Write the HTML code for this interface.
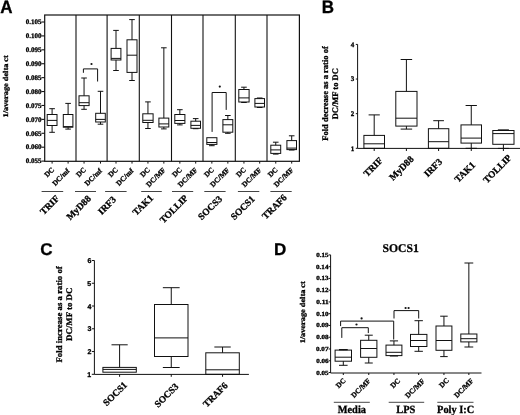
<!DOCTYPE html>
<html><head><meta charset="utf-8"><style>
html,body{margin:0;padding:0;background:#fff;width:520px;height:415px;overflow:hidden}
svg{display:block;will-change:transform;text-rendering:geometricPrecision}
text{fill:#000;stroke:#000;stroke-width:0.3px}
</style></head><body>
<svg width="520" height="415" viewBox="0 0 520 415">
<rect width="520" height="415" fill="#fff"/>
<text transform="translate(0.3 12.5) scale(1 1.06)" font-size="17" font-family="'Liberation Sans', sans-serif" font-weight="bold">A</text>
<text x="7.55" y="86.28" font-size="7.3" font-family="'Liberation Serif', serif" font-weight="bold" text-anchor="middle" transform="rotate(-90 7.55 86.28)" textLength="62.2" lengthAdjust="spacingAndGlyphs">1/average delta ct</text>
<rect x="44.7" y="15.0" width="254.70" height="146.30" fill="none" stroke="#111" stroke-width="1.2"/>
<line x1="76.00" y1="15.00" x2="76.00" y2="161.30" stroke="#111" stroke-width="1.1"/>
<line x1="107.10" y1="15.00" x2="107.10" y2="161.30" stroke="#111" stroke-width="1.1"/>
<line x1="139.30" y1="15.00" x2="139.30" y2="161.30" stroke="#111" stroke-width="1.1"/>
<line x1="171.50" y1="15.00" x2="171.50" y2="161.30" stroke="#111" stroke-width="1.1"/>
<line x1="203.00" y1="15.00" x2="203.00" y2="161.30" stroke="#111" stroke-width="1.1"/>
<line x1="235.30" y1="15.00" x2="235.30" y2="161.30" stroke="#111" stroke-width="1.1"/>
<line x1="267.00" y1="15.00" x2="267.00" y2="161.30" stroke="#111" stroke-width="1.1"/>
<line x1="41.40" y1="22.00" x2="44.70" y2="22.00" stroke="#111" stroke-width="1.1"/>
<text x="33.70" y="24.25" font-size="7" font-family="'Liberation Serif', serif" font-weight="bold" text-anchor="middle">0.105</text>
<line x1="41.40" y1="35.91" x2="44.70" y2="35.91" stroke="#111" stroke-width="1.1"/>
<text x="33.70" y="38.16" font-size="7" font-family="'Liberation Serif', serif" font-weight="bold" text-anchor="middle">0.100</text>
<line x1="41.40" y1="49.82" x2="44.70" y2="49.82" stroke="#111" stroke-width="1.1"/>
<text x="33.70" y="52.07" font-size="7" font-family="'Liberation Serif', serif" font-weight="bold" text-anchor="middle">0.095</text>
<line x1="41.40" y1="63.73" x2="44.70" y2="63.73" stroke="#111" stroke-width="1.1"/>
<text x="33.70" y="65.98" font-size="7" font-family="'Liberation Serif', serif" font-weight="bold" text-anchor="middle">0.090</text>
<line x1="41.40" y1="77.64" x2="44.70" y2="77.64" stroke="#111" stroke-width="1.1"/>
<text x="33.70" y="79.89" font-size="7" font-family="'Liberation Serif', serif" font-weight="bold" text-anchor="middle">0.085</text>
<line x1="41.40" y1="91.55" x2="44.70" y2="91.55" stroke="#111" stroke-width="1.1"/>
<text x="33.70" y="93.80" font-size="7" font-family="'Liberation Serif', serif" font-weight="bold" text-anchor="middle">0.080</text>
<line x1="41.40" y1="105.46" x2="44.70" y2="105.46" stroke="#111" stroke-width="1.1"/>
<text x="33.70" y="107.71" font-size="7" font-family="'Liberation Serif', serif" font-weight="bold" text-anchor="middle">0.075</text>
<line x1="41.40" y1="119.37" x2="44.70" y2="119.37" stroke="#111" stroke-width="1.1"/>
<text x="33.70" y="121.62" font-size="7" font-family="'Liberation Serif', serif" font-weight="bold" text-anchor="middle">0.070</text>
<line x1="41.40" y1="133.28" x2="44.70" y2="133.28" stroke="#111" stroke-width="1.1"/>
<text x="33.70" y="135.53" font-size="7" font-family="'Liberation Serif', serif" font-weight="bold" text-anchor="middle">0.065</text>
<line x1="41.40" y1="147.19" x2="44.70" y2="147.19" stroke="#111" stroke-width="1.1"/>
<text x="33.70" y="149.44" font-size="7" font-family="'Liberation Serif', serif" font-weight="bold" text-anchor="middle">0.060</text>
<line x1="41.40" y1="161.10" x2="44.70" y2="161.10" stroke="#111" stroke-width="1.1"/>
<text x="33.70" y="163.35" font-size="7" font-family="'Liberation Serif', serif" font-weight="bold" text-anchor="middle">0.055</text>
<line x1="52.10" y1="108.70" x2="52.10" y2="114.50" stroke="#111" stroke-width="1.0"/>
<line x1="49.30" y1="108.70" x2="54.90" y2="108.70" stroke="#111" stroke-width="1.0"/>
<line x1="52.10" y1="125.50" x2="52.10" y2="132.30" stroke="#111" stroke-width="1.0"/>
<line x1="49.30" y1="132.30" x2="54.90" y2="132.30" stroke="#111" stroke-width="1.0"/>
<rect x="47.20" y="114.50" width="9.80" height="11.00" fill="none" stroke="#111" stroke-width="1.0"/>
<line x1="47.20" y1="120.40" x2="57.00" y2="120.40" stroke="#111" stroke-width="1.0"/>
<line x1="52.10" y1="161.30" x2="52.10" y2="163.60" stroke="#111" stroke-width="1.0"/>
<text x="50.90" y="173.88" font-size="7.3" font-family="'Liberation Serif', serif" font-weight="bold" text-anchor="middle" transform="rotate(-45 50.90 173.88)">DC</text>
<line x1="68.10" y1="103.40" x2="68.10" y2="114.50" stroke="#111" stroke-width="1.0"/>
<line x1="65.30" y1="103.40" x2="70.90" y2="103.40" stroke="#111" stroke-width="1.0"/>
<line x1="68.10" y1="127.20" x2="68.10" y2="129.10" stroke="#111" stroke-width="1.0"/>
<line x1="65.30" y1="129.10" x2="70.90" y2="129.10" stroke="#111" stroke-width="1.0"/>
<rect x="63.30" y="114.50" width="9.60" height="12.70" fill="none" stroke="#111" stroke-width="1.0"/>
<line x1="63.30" y1="126.60" x2="72.90" y2="126.60" stroke="#111" stroke-width="1.0"/>
<line x1="68.10" y1="161.30" x2="68.10" y2="163.60" stroke="#111" stroke-width="1.0"/>
<text x="62.60" y="178.78" font-size="7.3" font-family="'Liberation Serif', serif" font-weight="bold" text-anchor="middle" transform="rotate(-45 62.60 178.78)">DC/mf</text>
<line x1="84.05" y1="78.00" x2="84.05" y2="95.80" stroke="#111" stroke-width="1.0"/>
<line x1="81.25" y1="78.00" x2="86.85" y2="78.00" stroke="#111" stroke-width="1.0"/>
<line x1="84.05" y1="105.60" x2="84.05" y2="109.30" stroke="#111" stroke-width="1.0"/>
<line x1="81.25" y1="109.30" x2="86.85" y2="109.30" stroke="#111" stroke-width="1.0"/>
<rect x="79.00" y="95.80" width="10.10" height="9.80" fill="none" stroke="#111" stroke-width="1.0"/>
<line x1="79.00" y1="102.70" x2="89.10" y2="102.70" stroke="#111" stroke-width="1.0"/>
<line x1="84.05" y1="161.30" x2="84.05" y2="163.60" stroke="#111" stroke-width="1.0"/>
<text x="82.85" y="173.88" font-size="7.3" font-family="'Liberation Serif', serif" font-weight="bold" text-anchor="middle" transform="rotate(-45 82.85 173.88)">DC</text>
<line x1="100.50" y1="91.30" x2="100.50" y2="113.30" stroke="#111" stroke-width="1.0"/>
<line x1="97.70" y1="91.30" x2="103.30" y2="91.30" stroke="#111" stroke-width="1.0"/>
<line x1="100.50" y1="122.00" x2="100.50" y2="124.20" stroke="#111" stroke-width="1.0"/>
<line x1="97.70" y1="124.20" x2="103.30" y2="124.20" stroke="#111" stroke-width="1.0"/>
<rect x="95.70" y="113.30" width="9.60" height="8.70" fill="none" stroke="#111" stroke-width="1.0"/>
<line x1="95.70" y1="119.40" x2="105.30" y2="119.40" stroke="#111" stroke-width="1.0"/>
<line x1="100.50" y1="161.30" x2="100.50" y2="163.60" stroke="#111" stroke-width="1.0"/>
<text x="95.00" y="178.78" font-size="7.3" font-family="'Liberation Serif', serif" font-weight="bold" text-anchor="middle" transform="rotate(-45 95.00 178.78)">DC/mf</text>
<line x1="116.00" y1="30.40" x2="116.00" y2="48.40" stroke="#111" stroke-width="1.0"/>
<line x1="113.20" y1="30.40" x2="118.80" y2="30.40" stroke="#111" stroke-width="1.0"/>
<line x1="116.00" y1="60.00" x2="116.00" y2="70.50" stroke="#111" stroke-width="1.0"/>
<line x1="113.20" y1="70.50" x2="118.80" y2="70.50" stroke="#111" stroke-width="1.0"/>
<rect x="111.10" y="48.40" width="9.80" height="11.60" fill="none" stroke="#111" stroke-width="1.0"/>
<line x1="111.10" y1="58.40" x2="120.90" y2="58.40" stroke="#111" stroke-width="1.0"/>
<line x1="116.00" y1="161.30" x2="116.00" y2="163.60" stroke="#111" stroke-width="1.0"/>
<text x="114.80" y="173.88" font-size="7.3" font-family="'Liberation Serif', serif" font-weight="bold" text-anchor="middle" transform="rotate(-45 114.80 173.88)">DC</text>
<line x1="132.00" y1="19.60" x2="132.00" y2="39.80" stroke="#111" stroke-width="1.0"/>
<line x1="129.20" y1="19.60" x2="134.80" y2="19.60" stroke="#111" stroke-width="1.0"/>
<line x1="132.00" y1="72.40" x2="132.00" y2="80.50" stroke="#111" stroke-width="1.0"/>
<line x1="129.20" y1="80.50" x2="134.80" y2="80.50" stroke="#111" stroke-width="1.0"/>
<rect x="127.00" y="39.80" width="10.00" height="32.60" fill="none" stroke="#111" stroke-width="1.0"/>
<line x1="127.00" y1="55.20" x2="137.00" y2="55.20" stroke="#111" stroke-width="1.0"/>
<line x1="132.00" y1="161.30" x2="132.00" y2="163.60" stroke="#111" stroke-width="1.0"/>
<text x="126.50" y="178.78" font-size="7.3" font-family="'Liberation Serif', serif" font-weight="bold" text-anchor="middle" transform="rotate(-45 126.50 178.78)">DC/mf</text>
<line x1="147.95" y1="101.90" x2="147.95" y2="113.80" stroke="#111" stroke-width="1.0"/>
<line x1="145.15" y1="101.90" x2="150.75" y2="101.90" stroke="#111" stroke-width="1.0"/>
<line x1="147.95" y1="122.50" x2="147.95" y2="128.50" stroke="#111" stroke-width="1.0"/>
<line x1="145.15" y1="128.50" x2="150.75" y2="128.50" stroke="#111" stroke-width="1.0"/>
<rect x="142.80" y="113.80" width="10.30" height="8.70" fill="none" stroke="#111" stroke-width="1.0"/>
<line x1="142.80" y1="120.30" x2="153.10" y2="120.30" stroke="#111" stroke-width="1.0"/>
<line x1="147.95" y1="161.30" x2="147.95" y2="163.60" stroke="#111" stroke-width="1.0"/>
<text x="146.75" y="173.88" font-size="7.3" font-family="'Liberation Serif', serif" font-weight="bold" text-anchor="middle" transform="rotate(-45 146.75 173.88)">DC</text>
<line x1="163.85" y1="47.80" x2="163.85" y2="118.10" stroke="#111" stroke-width="1.0"/>
<line x1="161.05" y1="47.80" x2="166.65" y2="47.80" stroke="#111" stroke-width="1.0"/>
<line x1="163.85" y1="127.00" x2="163.85" y2="128.90" stroke="#111" stroke-width="1.0"/>
<line x1="161.05" y1="128.90" x2="166.65" y2="128.90" stroke="#111" stroke-width="1.0"/>
<rect x="158.90" y="118.10" width="9.90" height="8.90" fill="none" stroke="#111" stroke-width="1.0"/>
<line x1="158.90" y1="123.90" x2="168.80" y2="123.90" stroke="#111" stroke-width="1.0"/>
<line x1="163.85" y1="161.30" x2="163.85" y2="163.60" stroke="#111" stroke-width="1.0"/>
<text x="157.50" y="179.03" font-size="7.3" font-family="'Liberation Serif', serif" font-weight="bold" text-anchor="middle" transform="rotate(-45 157.50 179.03)">DC/MF</text>
<line x1="179.85" y1="109.70" x2="179.85" y2="114.50" stroke="#111" stroke-width="1.0"/>
<line x1="177.05" y1="109.70" x2="182.65" y2="109.70" stroke="#111" stroke-width="1.0"/>
<line x1="179.85" y1="123.40" x2="179.85" y2="124.90" stroke="#111" stroke-width="1.0"/>
<line x1="177.05" y1="124.90" x2="182.65" y2="124.90" stroke="#111" stroke-width="1.0"/>
<rect x="174.80" y="114.50" width="10.10" height="8.90" fill="none" stroke="#111" stroke-width="1.0"/>
<line x1="174.80" y1="120.50" x2="184.90" y2="120.50" stroke="#111" stroke-width="1.0"/>
<line x1="179.85" y1="161.30" x2="179.85" y2="163.60" stroke="#111" stroke-width="1.0"/>
<text x="178.65" y="173.88" font-size="7.3" font-family="'Liberation Serif', serif" font-weight="bold" text-anchor="middle" transform="rotate(-45 178.65 173.88)">DC</text>
<line x1="195.70" y1="118.60" x2="195.70" y2="121.20" stroke="#111" stroke-width="1.0"/>
<line x1="192.90" y1="118.60" x2="198.50" y2="118.60" stroke="#111" stroke-width="1.0"/>
<line x1="195.70" y1="128.30" x2="195.70" y2="128.70" stroke="#111" stroke-width="1.0"/>
<line x1="192.90" y1="128.70" x2="198.50" y2="128.70" stroke="#111" stroke-width="1.0"/>
<rect x="190.90" y="121.20" width="9.60" height="7.10" fill="none" stroke="#111" stroke-width="1.0"/>
<line x1="190.90" y1="125.40" x2="200.50" y2="125.40" stroke="#111" stroke-width="1.0"/>
<line x1="195.70" y1="161.30" x2="195.70" y2="163.60" stroke="#111" stroke-width="1.0"/>
<text x="189.35" y="179.03" font-size="7.3" font-family="'Liberation Serif', serif" font-weight="bold" text-anchor="middle" transform="rotate(-45 189.35 179.03)">DC/MF</text>
<line x1="211.85" y1="144.40" x2="211.85" y2="145.70" stroke="#111" stroke-width="1.0"/>
<line x1="209.05" y1="145.70" x2="214.65" y2="145.70" stroke="#111" stroke-width="1.0"/>
<rect x="206.80" y="137.70" width="10.10" height="6.70" fill="none" stroke="#111" stroke-width="1.0"/>
<line x1="206.80" y1="142.50" x2="216.90" y2="142.50" stroke="#111" stroke-width="1.0"/>
<line x1="211.85" y1="161.30" x2="211.85" y2="163.60" stroke="#111" stroke-width="1.0"/>
<text x="210.65" y="173.88" font-size="7.3" font-family="'Liberation Serif', serif" font-weight="bold" text-anchor="middle" transform="rotate(-45 210.65 173.88)">DC</text>
<line x1="227.85" y1="115.50" x2="227.85" y2="119.60" stroke="#111" stroke-width="1.0"/>
<line x1="225.05" y1="115.50" x2="230.65" y2="115.50" stroke="#111" stroke-width="1.0"/>
<line x1="227.85" y1="132.20" x2="227.85" y2="133.30" stroke="#111" stroke-width="1.0"/>
<line x1="225.05" y1="133.30" x2="230.65" y2="133.30" stroke="#111" stroke-width="1.0"/>
<rect x="222.90" y="119.60" width="9.90" height="12.60" fill="none" stroke="#111" stroke-width="1.0"/>
<line x1="222.90" y1="124.80" x2="232.80" y2="124.80" stroke="#111" stroke-width="1.0"/>
<line x1="227.85" y1="161.30" x2="227.85" y2="163.60" stroke="#111" stroke-width="1.0"/>
<text x="221.50" y="179.03" font-size="7.3" font-family="'Liberation Serif', serif" font-weight="bold" text-anchor="middle" transform="rotate(-45 221.50 179.03)">DC/MF</text>
<line x1="243.95" y1="87.20" x2="243.95" y2="89.50" stroke="#111" stroke-width="1.0"/>
<line x1="241.15" y1="87.20" x2="246.75" y2="87.20" stroke="#111" stroke-width="1.0"/>
<line x1="243.95" y1="102.00" x2="243.95" y2="102.50" stroke="#111" stroke-width="1.0"/>
<line x1="241.15" y1="102.50" x2="246.75" y2="102.50" stroke="#111" stroke-width="1.0"/>
<rect x="238.80" y="89.50" width="10.30" height="12.50" fill="none" stroke="#111" stroke-width="1.0"/>
<line x1="238.80" y1="97.90" x2="249.10" y2="97.90" stroke="#111" stroke-width="1.0"/>
<line x1="243.95" y1="161.30" x2="243.95" y2="163.60" stroke="#111" stroke-width="1.0"/>
<text x="242.75" y="173.88" font-size="7.3" font-family="'Liberation Serif', serif" font-weight="bold" text-anchor="middle" transform="rotate(-45 242.75 173.88)">DC</text>
<line x1="259.70" y1="98.00" x2="259.70" y2="98.60" stroke="#111" stroke-width="1.0"/>
<line x1="256.90" y1="98.00" x2="262.50" y2="98.00" stroke="#111" stroke-width="1.0"/>
<line x1="259.70" y1="107.00" x2="259.70" y2="107.50" stroke="#111" stroke-width="1.0"/>
<line x1="256.90" y1="107.50" x2="262.50" y2="107.50" stroke="#111" stroke-width="1.0"/>
<rect x="254.90" y="98.60" width="9.60" height="8.40" fill="none" stroke="#111" stroke-width="1.0"/>
<line x1="254.90" y1="103.40" x2="264.50" y2="103.40" stroke="#111" stroke-width="1.0"/>
<line x1="259.70" y1="161.30" x2="259.70" y2="163.60" stroke="#111" stroke-width="1.0"/>
<text x="253.35" y="179.03" font-size="7.3" font-family="'Liberation Serif', serif" font-weight="bold" text-anchor="middle" transform="rotate(-45 253.35 179.03)">DC/MF</text>
<line x1="275.75" y1="142.20" x2="275.75" y2="145.20" stroke="#111" stroke-width="1.0"/>
<line x1="272.95" y1="142.20" x2="278.55" y2="142.20" stroke="#111" stroke-width="1.0"/>
<line x1="275.75" y1="153.40" x2="275.75" y2="154.10" stroke="#111" stroke-width="1.0"/>
<line x1="272.95" y1="154.10" x2="278.55" y2="154.10" stroke="#111" stroke-width="1.0"/>
<rect x="270.80" y="145.20" width="9.90" height="8.20" fill="none" stroke="#111" stroke-width="1.0"/>
<line x1="270.80" y1="149.90" x2="280.70" y2="149.90" stroke="#111" stroke-width="1.0"/>
<line x1="275.75" y1="161.30" x2="275.75" y2="163.60" stroke="#111" stroke-width="1.0"/>
<text x="274.55" y="173.88" font-size="7.3" font-family="'Liberation Serif', serif" font-weight="bold" text-anchor="middle" transform="rotate(-45 274.55 173.88)">DC</text>
<line x1="291.70" y1="135.80" x2="291.70" y2="140.60" stroke="#111" stroke-width="1.0"/>
<line x1="288.90" y1="135.80" x2="294.50" y2="135.80" stroke="#111" stroke-width="1.0"/>
<line x1="291.70" y1="149.60" x2="291.70" y2="150.00" stroke="#111" stroke-width="1.0"/>
<line x1="288.90" y1="150.00" x2="294.50" y2="150.00" stroke="#111" stroke-width="1.0"/>
<rect x="286.90" y="140.60" width="9.60" height="9.00" fill="none" stroke="#111" stroke-width="1.0"/>
<line x1="286.90" y1="148.10" x2="296.50" y2="148.10" stroke="#111" stroke-width="1.0"/>
<line x1="291.70" y1="161.30" x2="291.70" y2="163.60" stroke="#111" stroke-width="1.0"/>
<text x="285.35" y="179.03" font-size="7.3" font-family="'Liberation Serif', serif" font-weight="bold" text-anchor="middle" transform="rotate(-45 285.35 179.03)">DC/MF</text>
<path d="M83.4 72.3 V68.9 H97.6 V81.0" fill="none" stroke="#111" stroke-width="1.0" stroke-linejoin="miter" stroke-linecap="square"/>
<circle cx="91.5" cy="64.0" r="1.1" fill="#111"/>
<path d="M212.1 131.4 V92.5 H226.2 V109.4" fill="none" stroke="#111" stroke-width="1.0" stroke-linejoin="miter" stroke-linecap="square"/>
<circle cx="219.8" cy="86.6" r="1.1" fill="#111"/>
<line x1="41.60" y1="191.50" x2="63.20" y2="191.50" stroke="#444" stroke-width="1.0"/>
<line x1="75.00" y1="191.50" x2="96.00" y2="191.50" stroke="#444" stroke-width="1.0"/>
<line x1="105.10" y1="191.50" x2="126.60" y2="191.50" stroke="#444" stroke-width="1.0"/>
<line x1="141.20" y1="191.50" x2="161.80" y2="191.50" stroke="#444" stroke-width="1.0"/>
<line x1="172.00" y1="191.50" x2="193.20" y2="191.50" stroke="#444" stroke-width="1.0"/>
<line x1="204.30" y1="191.50" x2="225.60" y2="191.50" stroke="#444" stroke-width="1.0"/>
<line x1="237.90" y1="191.50" x2="259.30" y2="191.50" stroke="#444" stroke-width="1.0"/>
<line x1="270.40" y1="191.50" x2="291.70" y2="191.50" stroke="#444" stroke-width="1.0"/>
<text x="51.75" y="207.20" font-size="9.5" font-family="'Liberation Serif', serif" font-weight="bold" text-anchor="middle" transform="rotate(-45 51.75 207.20)">TRIF</text>
<text x="80.90" y="209.85" font-size="9.5" font-family="'Liberation Serif', serif" font-weight="bold" text-anchor="middle" transform="rotate(-45 80.90 209.85)">MyD88</text>
<text x="109.25" y="207.70" font-size="9.5" font-family="'Liberation Serif', serif" font-weight="bold" text-anchor="middle" transform="rotate(-45 109.25 207.70)">IRF3</text>
<text x="145.05" y="207.25" font-size="9.5" font-family="'Liberation Serif', serif" font-weight="bold" text-anchor="middle" transform="rotate(-45 145.05 207.25)">TAK1</text>
<text x="176.10" y="211.15" font-size="9.5" font-family="'Liberation Serif', serif" font-weight="bold" text-anchor="middle" transform="rotate(-45 176.10 211.15)">TOLLIP</text>
<text x="212.32" y="210.05" font-size="9.5" font-family="'Liberation Serif', serif" font-weight="bold" text-anchor="middle" transform="rotate(-45 212.32 210.05)">SOCS3</text>
<text x="244.93" y="210.05" font-size="9.5" font-family="'Liberation Serif', serif" font-weight="bold" text-anchor="middle" transform="rotate(-45 244.93 210.05)">SOCS1</text>
<text x="276.68" y="209.03" font-size="9.5" font-family="'Liberation Serif', serif" font-weight="bold" text-anchor="middle" transform="rotate(-45 276.68 209.03)">TRAF6</text>
<text transform="translate(321.7 12.6) scale(1 1.06)" font-size="17" font-family="'Liberation Sans', sans-serif" font-weight="bold">B</text>
<text x="327.88" y="93.47" font-size="8.5" font-family="'Liberation Serif', serif" font-weight="bold" text-anchor="middle" transform="rotate(-90 327.88 93.47)">Fold decrease as a ratio of</text>
<text x="337.65" y="93.75" font-size="8.5" font-family="'Liberation Serif', serif" font-weight="bold" text-anchor="middle" transform="rotate(-90 337.65 93.75)">DC/MF to DC</text>
<line x1="357.60" y1="44.40" x2="357.60" y2="148.40" stroke="#111" stroke-width="1.0"/>
<line x1="357.60" y1="148.40" x2="520.00" y2="148.40" stroke="#111" stroke-width="1.0"/>
<line x1="355.80" y1="148.30" x2="357.60" y2="148.30" stroke="#111" stroke-width="1.0"/>
<text x="352.48" y="150.68" font-size="7" font-family="'Liberation Serif', serif" font-weight="bold" text-anchor="middle">1</text>
<line x1="355.80" y1="113.67" x2="357.60" y2="113.67" stroke="#111" stroke-width="1.0"/>
<text x="352.60" y="116.05" font-size="7" font-family="'Liberation Serif', serif" font-weight="bold" text-anchor="middle">2</text>
<line x1="355.80" y1="79.04" x2="357.60" y2="79.04" stroke="#111" stroke-width="1.0"/>
<text x="352.60" y="81.29" font-size="7" font-family="'Liberation Serif', serif" font-weight="bold" text-anchor="middle">3</text>
<line x1="355.80" y1="44.41" x2="357.60" y2="44.41" stroke="#111" stroke-width="1.0"/>
<text x="352.60" y="46.78" font-size="7" font-family="'Liberation Serif', serif" font-weight="bold" text-anchor="middle">4</text>
<line x1="374.20" y1="114.90" x2="374.20" y2="135.40" stroke="#111" stroke-width="1.0"/>
<line x1="368.60" y1="114.90" x2="379.80" y2="114.90" stroke="#111" stroke-width="1.0"/>
<rect x="363.90" y="135.40" width="20.60" height="12.90" fill="none" stroke="#111" stroke-width="1.0"/>
<line x1="363.90" y1="143.80" x2="384.50" y2="143.80" stroke="#111" stroke-width="1.0"/>
<line x1="374.20" y1="148.40" x2="374.20" y2="151.00" stroke="#111" stroke-width="1.0"/>
<line x1="406.40" y1="59.50" x2="406.40" y2="91.40" stroke="#111" stroke-width="1.0"/>
<line x1="400.65" y1="59.50" x2="412.15" y2="59.50" stroke="#111" stroke-width="1.0"/>
<line x1="406.40" y1="126.10" x2="406.40" y2="129.10" stroke="#111" stroke-width="1.0"/>
<line x1="400.65" y1="129.10" x2="412.15" y2="129.10" stroke="#111" stroke-width="1.0"/>
<rect x="395.80" y="91.40" width="21.20" height="34.70" fill="none" stroke="#111" stroke-width="1.0"/>
<line x1="395.80" y1="118.20" x2="417.00" y2="118.20" stroke="#111" stroke-width="1.0"/>
<line x1="406.40" y1="148.40" x2="406.40" y2="151.00" stroke="#111" stroke-width="1.0"/>
<line x1="438.60" y1="120.70" x2="438.60" y2="128.70" stroke="#111" stroke-width="1.0"/>
<line x1="433.25" y1="120.70" x2="443.95" y2="120.70" stroke="#111" stroke-width="1.0"/>
<rect x="428.40" y="128.70" width="20.40" height="19.60" fill="none" stroke="#111" stroke-width="1.0"/>
<line x1="428.40" y1="141.70" x2="448.80" y2="141.70" stroke="#111" stroke-width="1.0"/>
<line x1="438.60" y1="148.40" x2="438.60" y2="151.00" stroke="#111" stroke-width="1.0"/>
<line x1="471.25" y1="105.50" x2="471.25" y2="124.90" stroke="#111" stroke-width="1.0"/>
<line x1="465.60" y1="105.50" x2="476.90" y2="105.50" stroke="#111" stroke-width="1.0"/>
<line x1="471.25" y1="143.10" x2="471.25" y2="148.30" stroke="#111" stroke-width="1.0"/>
<line x1="465.60" y1="148.30" x2="476.90" y2="148.30" stroke="#111" stroke-width="1.0"/>
<rect x="461.00" y="124.90" width="20.50" height="18.20" fill="none" stroke="#111" stroke-width="1.0"/>
<line x1="461.00" y1="138.10" x2="481.50" y2="138.10" stroke="#111" stroke-width="1.0"/>
<line x1="471.25" y1="148.40" x2="471.25" y2="151.00" stroke="#111" stroke-width="1.0"/>
<line x1="497.90" y1="130.10" x2="508.90" y2="130.10" stroke="#111" stroke-width="1.0"/>
<line x1="503.40" y1="130.10" x2="503.40" y2="130.50" stroke="#111" stroke-width="1.0"/>
<line x1="497.90" y1="130.10" x2="508.90" y2="130.10" stroke="#111" stroke-width="1.0"/>
<line x1="503.40" y1="144.30" x2="503.40" y2="148.40" stroke="#111" stroke-width="1.0"/>
<line x1="497.90" y1="148.40" x2="508.90" y2="148.40" stroke="#111" stroke-width="1.0"/>
<rect x="492.80" y="130.50" width="21.20" height="13.80" fill="none" stroke="#111" stroke-width="1.0"/>
<line x1="492.80" y1="133.60" x2="514.00" y2="133.60" stroke="#111" stroke-width="1.0"/>
<line x1="503.40" y1="148.40" x2="503.40" y2="151.00" stroke="#111" stroke-width="1.0"/>
<text x="375.25" y="169.25" font-size="9.5" font-family="'Liberation Serif', serif" font-weight="bold" text-anchor="middle" transform="rotate(-45 375.25 169.25)">TRIF</text>
<text x="403.70" y="170.40" font-size="9.5" font-family="'Liberation Serif', serif" font-weight="bold" text-anchor="middle" transform="rotate(-45 403.70 170.40)">MyD88</text>
<text x="435.30" y="169.95" font-size="9.5" font-family="'Liberation Serif', serif" font-weight="bold" text-anchor="middle" transform="rotate(-45 435.30 169.95)">IRF3</text>
<text x="467.05" y="174.25" font-size="9.5" font-family="'Liberation Serif', serif" font-weight="bold" text-anchor="middle" transform="rotate(-45 467.05 174.25)">TAK1</text>
<text x="499.60" y="171.00" font-size="9.5" font-family="'Liberation Serif', serif" font-weight="bold" text-anchor="middle" transform="rotate(-45 499.60 171.00)">TOLLIP</text>
<text x="40.2" y="254.9" font-size="17" font-family="'Liberation Sans', sans-serif" font-weight="bold">C</text>
<text x="62.20" y="314.40" font-size="8.5" font-family="'Liberation Serif', serif" font-weight="bold" text-anchor="middle" transform="rotate(-90 62.20 314.40)" textLength="96.3" lengthAdjust="spacingAndGlyphs">Fold increase as a ratio of</text>
<text x="71.95" y="314.27" font-size="8.5" font-family="'Liberation Serif', serif" font-weight="bold" text-anchor="middle" transform="rotate(-90 71.95 314.27)" textLength="53.4" lengthAdjust="spacingAndGlyphs">DC/MF to DC</text>
<line x1="94.40" y1="260.50" x2="94.40" y2="374.40" stroke="#111" stroke-width="1.0"/>
<line x1="94.40" y1="374.40" x2="248.90" y2="374.40" stroke="#111" stroke-width="1.0"/>
<line x1="91.80" y1="374.30" x2="94.40" y2="374.30" stroke="#111" stroke-width="1.0"/>
<text x="89.28" y="376.80" font-size="7" font-family="'Liberation Sans', sans-serif" font-weight="bold" text-anchor="middle">1</text>
<line x1="91.80" y1="351.54" x2="94.40" y2="351.54" stroke="#111" stroke-width="1.0"/>
<text x="89.40" y="354.04" font-size="7" font-family="'Liberation Sans', sans-serif" font-weight="bold" text-anchor="middle">2</text>
<line x1="91.80" y1="328.78" x2="94.40" y2="328.78" stroke="#111" stroke-width="1.0"/>
<text x="89.53" y="331.16" font-size="7" font-family="'Liberation Sans', sans-serif" font-weight="bold" text-anchor="middle">3</text>
<line x1="91.80" y1="306.02" x2="94.40" y2="306.02" stroke="#111" stroke-width="1.0"/>
<text x="89.40" y="308.52" font-size="7" font-family="'Liberation Sans', sans-serif" font-weight="bold" text-anchor="middle">4</text>
<line x1="91.80" y1="283.26" x2="94.40" y2="283.26" stroke="#111" stroke-width="1.0"/>
<text x="89.28" y="285.63" font-size="7" font-family="'Liberation Sans', sans-serif" font-weight="bold" text-anchor="middle">5</text>
<line x1="91.80" y1="260.50" x2="94.40" y2="260.50" stroke="#111" stroke-width="1.0"/>
<text x="89.40" y="262.88" font-size="7" font-family="'Liberation Sans', sans-serif" font-weight="bold" text-anchor="middle">6</text>
<line x1="119.60" y1="344.80" x2="119.60" y2="367.40" stroke="#111" stroke-width="1.0"/>
<line x1="111.50" y1="344.80" x2="127.70" y2="344.80" stroke="#111" stroke-width="1.0"/>
<rect x="102.90" y="367.40" width="33.40" height="4.80" fill="none" stroke="#111" stroke-width="1.0"/>
<line x1="102.90" y1="369.40" x2="136.30" y2="369.40" stroke="#111" stroke-width="1.0"/>
<line x1="119.60" y1="374.40" x2="119.60" y2="376.80" stroke="#111" stroke-width="1.0"/>
<line x1="171.25" y1="287.70" x2="171.25" y2="304.50" stroke="#111" stroke-width="1.0"/>
<line x1="162.85" y1="287.70" x2="179.65" y2="287.70" stroke="#111" stroke-width="1.0"/>
<line x1="171.25" y1="356.50" x2="171.25" y2="367.50" stroke="#111" stroke-width="1.0"/>
<line x1="162.85" y1="367.50" x2="179.65" y2="367.50" stroke="#111" stroke-width="1.0"/>
<rect x="154.50" y="304.50" width="33.50" height="52.00" fill="none" stroke="#111" stroke-width="1.0"/>
<line x1="154.50" y1="337.90" x2="188.00" y2="337.90" stroke="#111" stroke-width="1.0"/>
<line x1="171.25" y1="374.40" x2="171.25" y2="376.80" stroke="#111" stroke-width="1.0"/>
<line x1="222.55" y1="347.00" x2="222.55" y2="352.80" stroke="#111" stroke-width="1.0"/>
<line x1="214.35" y1="347.00" x2="230.75" y2="347.00" stroke="#111" stroke-width="1.0"/>
<rect x="205.80" y="352.80" width="33.50" height="21.50" fill="none" stroke="#111" stroke-width="1.0"/>
<line x1="205.80" y1="369.80" x2="239.30" y2="369.80" stroke="#111" stroke-width="1.0"/>
<line x1="222.55" y1="374.40" x2="222.55" y2="376.80" stroke="#111" stroke-width="1.0"/>
<text x="117.28" y="396.00" font-size="9.5" font-family="'Liberation Serif', serif" font-weight="bold" text-anchor="middle" transform="rotate(-45 117.28 396.00)">SOCS1</text>
<text x="168.62" y="397.50" font-size="9.5" font-family="'Liberation Serif', serif" font-weight="bold" text-anchor="middle" transform="rotate(-45 168.62 397.50)">SOCS3</text>
<text x="217.53" y="396.98" font-size="9.5" font-family="'Liberation Serif', serif" font-weight="bold" text-anchor="middle" transform="rotate(-45 217.53 396.98)">TRAF6</text>
<text x="274.0" y="255.3" font-size="17" font-family="'Liberation Sans', sans-serif" font-weight="bold">D</text>
<text x="400.68" y="252.38" font-size="11.8" font-family="'Liberation Serif', serif" font-weight="bold" text-anchor="middle" textLength="36.2" lengthAdjust="spacingAndGlyphs">SOCS1</text>
<text x="304.65" y="312.27" font-size="7.3" font-family="'Liberation Serif', serif" font-weight="bold" text-anchor="middle" transform="rotate(-90 304.65 312.27)" textLength="62.2" lengthAdjust="spacingAndGlyphs">1/average delta ct</text>
<line x1="330.60" y1="254.90" x2="330.60" y2="373.00" stroke="#111" stroke-width="1.0"/>
<line x1="330.60" y1="373.00" x2="481.50" y2="373.00" stroke="#111" stroke-width="1.0"/>
<line x1="328.60" y1="254.90" x2="330.60" y2="254.90" stroke="#111" stroke-width="1.0"/>
<text x="322.40" y="256.90" font-size="6.3" font-family="'Liberation Serif', serif" font-weight="bold" text-anchor="middle" textLength="12.4" lengthAdjust="spacingAndGlyphs">0.15</text>
<line x1="328.60" y1="266.66" x2="330.60" y2="266.66" stroke="#111" stroke-width="1.0"/>
<text x="322.27" y="268.66" font-size="6.3" font-family="'Liberation Serif', serif" font-weight="bold" text-anchor="middle" textLength="12.4" lengthAdjust="spacingAndGlyphs">0.14</text>
<line x1="328.60" y1="278.42" x2="330.60" y2="278.42" stroke="#111" stroke-width="1.0"/>
<text x="322.40" y="280.42" font-size="6.3" font-family="'Liberation Serif', serif" font-weight="bold" text-anchor="middle" textLength="12.4" lengthAdjust="spacingAndGlyphs">0.13</text>
<line x1="328.60" y1="290.18" x2="330.60" y2="290.18" stroke="#111" stroke-width="1.0"/>
<text x="322.40" y="292.18" font-size="6.3" font-family="'Liberation Serif', serif" font-weight="bold" text-anchor="middle" textLength="12.4" lengthAdjust="spacingAndGlyphs">0.12</text>
<line x1="328.60" y1="301.94" x2="330.60" y2="301.94" stroke="#111" stroke-width="1.0"/>
<text x="322.40" y="303.94" font-size="6.3" font-family="'Liberation Serif', serif" font-weight="bold" text-anchor="middle" textLength="12.4" lengthAdjust="spacingAndGlyphs">0.11</text>
<line x1="328.60" y1="313.70" x2="330.60" y2="313.70" stroke="#111" stroke-width="1.0"/>
<text x="322.40" y="315.70" font-size="6.3" font-family="'Liberation Serif', serif" font-weight="bold" text-anchor="middle" textLength="12.4" lengthAdjust="spacingAndGlyphs">0.10</text>
<line x1="328.60" y1="325.46" x2="330.60" y2="325.46" stroke="#111" stroke-width="1.0"/>
<text x="322.40" y="327.46" font-size="6.3" font-family="'Liberation Serif', serif" font-weight="bold" text-anchor="middle" textLength="12.4" lengthAdjust="spacingAndGlyphs">0.09</text>
<line x1="328.60" y1="337.22" x2="330.60" y2="337.22" stroke="#111" stroke-width="1.0"/>
<text x="322.40" y="339.22" font-size="6.3" font-family="'Liberation Serif', serif" font-weight="bold" text-anchor="middle" textLength="12.4" lengthAdjust="spacingAndGlyphs">0.08</text>
<line x1="328.60" y1="348.98" x2="330.60" y2="348.98" stroke="#111" stroke-width="1.0"/>
<text x="322.27" y="350.98" font-size="6.3" font-family="'Liberation Serif', serif" font-weight="bold" text-anchor="middle" textLength="12.4" lengthAdjust="spacingAndGlyphs">0.07</text>
<line x1="328.60" y1="360.74" x2="330.60" y2="360.74" stroke="#111" stroke-width="1.0"/>
<text x="322.40" y="362.74" font-size="6.3" font-family="'Liberation Serif', serif" font-weight="bold" text-anchor="middle" textLength="12.4" lengthAdjust="spacingAndGlyphs">0.06</text>
<line x1="328.60" y1="372.50" x2="330.60" y2="372.50" stroke="#111" stroke-width="1.0"/>
<text x="322.40" y="374.50" font-size="6.3" font-family="'Liberation Serif', serif" font-weight="bold" text-anchor="middle" textLength="12.4" lengthAdjust="spacingAndGlyphs">0.05</text>
<line x1="339.00" y1="349.70" x2="347.60" y2="349.70" stroke="#111" stroke-width="1.0"/>
<line x1="343.30" y1="349.70" x2="343.30" y2="350.10" stroke="#111" stroke-width="1.0"/>
<line x1="339.00" y1="349.70" x2="347.60" y2="349.70" stroke="#111" stroke-width="1.0"/>
<line x1="343.30" y1="361.20" x2="343.30" y2="365.30" stroke="#111" stroke-width="1.0"/>
<line x1="339.00" y1="365.30" x2="347.60" y2="365.30" stroke="#111" stroke-width="1.0"/>
<rect x="335.10" y="350.10" width="16.40" height="11.10" fill="none" stroke="#111" stroke-width="1.0"/>
<line x1="335.10" y1="357.20" x2="351.50" y2="357.20" stroke="#111" stroke-width="1.0"/>
<line x1="343.30" y1="373.00" x2="343.30" y2="375.00" stroke="#111" stroke-width="1.0"/>
<text x="342.60" y="384.77" font-size="7.3" font-family="'Liberation Serif', serif" font-weight="bold" text-anchor="middle" transform="rotate(-45 342.60 384.77)">DC</text>
<line x1="368.75" y1="335.20" x2="368.75" y2="340.30" stroke="#111" stroke-width="1.0"/>
<line x1="364.75" y1="335.20" x2="372.75" y2="335.20" stroke="#111" stroke-width="1.0"/>
<line x1="368.75" y1="357.30" x2="368.75" y2="363.00" stroke="#111" stroke-width="1.0"/>
<line x1="364.75" y1="363.00" x2="372.75" y2="363.00" stroke="#111" stroke-width="1.0"/>
<rect x="360.60" y="340.30" width="16.30" height="17.00" fill="none" stroke="#111" stroke-width="1.0"/>
<line x1="360.60" y1="348.50" x2="376.90" y2="348.50" stroke="#111" stroke-width="1.0"/>
<line x1="368.75" y1="373.00" x2="368.75" y2="375.00" stroke="#111" stroke-width="1.0"/>
<text x="362.55" y="389.82" font-size="7.3" font-family="'Liberation Serif', serif" font-weight="bold" text-anchor="middle" transform="rotate(-45 362.55 389.82)">DC/MF</text>
<line x1="393.95" y1="340.90" x2="393.95" y2="345.10" stroke="#111" stroke-width="1.0"/>
<line x1="389.85" y1="340.90" x2="398.05" y2="340.90" stroke="#111" stroke-width="1.0"/>
<line x1="393.95" y1="355.60" x2="393.95" y2="356.00" stroke="#111" stroke-width="1.0"/>
<line x1="389.85" y1="356.00" x2="398.05" y2="356.00" stroke="#111" stroke-width="1.0"/>
<rect x="386.00" y="345.10" width="15.90" height="10.50" fill="none" stroke="#111" stroke-width="1.0"/>
<line x1="386.00" y1="352.30" x2="401.90" y2="352.30" stroke="#111" stroke-width="1.0"/>
<line x1="393.95" y1="373.00" x2="393.95" y2="375.00" stroke="#111" stroke-width="1.0"/>
<text x="396.90" y="384.88" font-size="7.3" font-family="'Liberation Serif', serif" font-weight="bold" text-anchor="middle" transform="rotate(-45 396.90 384.88)">DC</text>
<line x1="418.70" y1="320.70" x2="418.70" y2="334.40" stroke="#111" stroke-width="1.0"/>
<line x1="414.50" y1="320.70" x2="422.90" y2="320.70" stroke="#111" stroke-width="1.0"/>
<line x1="418.70" y1="346.50" x2="418.70" y2="351.30" stroke="#111" stroke-width="1.0"/>
<line x1="414.50" y1="351.30" x2="422.90" y2="351.30" stroke="#111" stroke-width="1.0"/>
<rect x="410.50" y="334.40" width="16.40" height="12.10" fill="none" stroke="#111" stroke-width="1.0"/>
<line x1="410.50" y1="340.50" x2="426.90" y2="340.50" stroke="#111" stroke-width="1.0"/>
<line x1="418.70" y1="373.00" x2="418.70" y2="375.00" stroke="#111" stroke-width="1.0"/>
<text x="416.60" y="390.12" font-size="7.3" font-family="'Liberation Serif', serif" font-weight="bold" text-anchor="middle" transform="rotate(-45 416.60 390.12)">DC/MF</text>
<line x1="443.95" y1="316.20" x2="443.95" y2="326.00" stroke="#111" stroke-width="1.0"/>
<line x1="440.20" y1="316.20" x2="447.70" y2="316.20" stroke="#111" stroke-width="1.0"/>
<line x1="443.95" y1="350.30" x2="443.95" y2="356.60" stroke="#111" stroke-width="1.0"/>
<line x1="440.20" y1="356.60" x2="447.70" y2="356.60" stroke="#111" stroke-width="1.0"/>
<rect x="436.00" y="326.00" width="15.90" height="24.30" fill="none" stroke="#111" stroke-width="1.0"/>
<line x1="436.00" y1="340.50" x2="451.90" y2="340.50" stroke="#111" stroke-width="1.0"/>
<line x1="443.95" y1="373.00" x2="443.95" y2="375.00" stroke="#111" stroke-width="1.0"/>
<text x="445.70" y="384.48" font-size="7.3" font-family="'Liberation Serif', serif" font-weight="bold" text-anchor="middle" transform="rotate(-45 445.70 384.48)">DC</text>
<line x1="468.85" y1="263.00" x2="468.85" y2="334.00" stroke="#111" stroke-width="1.0"/>
<line x1="464.45" y1="263.00" x2="473.25" y2="263.00" stroke="#111" stroke-width="1.0"/>
<line x1="468.85" y1="341.90" x2="468.85" y2="347.00" stroke="#111" stroke-width="1.0"/>
<line x1="464.45" y1="347.00" x2="473.25" y2="347.00" stroke="#111" stroke-width="1.0"/>
<rect x="460.80" y="334.00" width="16.10" height="7.90" fill="none" stroke="#111" stroke-width="1.0"/>
<line x1="460.80" y1="338.70" x2="476.90" y2="338.70" stroke="#111" stroke-width="1.0"/>
<line x1="468.85" y1="373.00" x2="468.85" y2="375.00" stroke="#111" stroke-width="1.0"/>
<text x="465.45" y="389.82" font-size="7.3" font-family="'Liberation Serif', serif" font-weight="bold" text-anchor="middle" transform="rotate(-45 465.45 389.82)">DC/MF</text>
<line x1="333.80" y1="402.30" x2="369.80" y2="402.30" stroke="#333" stroke-width="0.9"/>
<line x1="388.70" y1="402.30" x2="424.20" y2="402.30" stroke="#333" stroke-width="0.9"/>
<line x1="437.30" y1="402.30" x2="473.50" y2="402.30" stroke="#333" stroke-width="0.9"/>
<text x="351.85" y="412.75" font-size="11" font-family="'Liberation Serif', serif" font-weight="bold" text-anchor="middle" textLength="28.2" lengthAdjust="spacingAndGlyphs">Media</text>
<text x="405.82" y="412.62" font-size="11" font-family="'Liberation Serif', serif" font-weight="bold" text-anchor="middle" textLength="19.2" lengthAdjust="spacingAndGlyphs">LPS</text>
<text x="455.65" y="412.82" font-size="11" font-family="'Liberation Serif', serif" font-weight="bold" text-anchor="middle" textLength="37.2" lengthAdjust="spacingAndGlyphs">Poly I:C</text>
<path d="M340.6 325.6 V321.1 H393.7 V339.0" fill="none" stroke="#111" stroke-width="1.0" stroke-linejoin="miter" stroke-linecap="square"/>
<circle cx="361.6" cy="318.4" r="1.1" fill="#111"/>
<path d="M341.8 337.4 V327.7 H368.3 V332.6" fill="none" stroke="#111" stroke-width="1.0" stroke-linejoin="miter" stroke-linecap="square"/>
<circle cx="356.5" cy="324.5" r="1.1" fill="#111"/>
<path d="M394.0 318.0 V310.6 H418.7 V318.0" fill="none" stroke="#111" stroke-width="1.0" stroke-linejoin="miter" stroke-linecap="square"/>
<circle cx="405.6" cy="308.0" r="1.1" fill="#111"/>
<circle cx="408.6" cy="308.0" r="1.1" fill="#111"/>
</svg>
</body></html>
